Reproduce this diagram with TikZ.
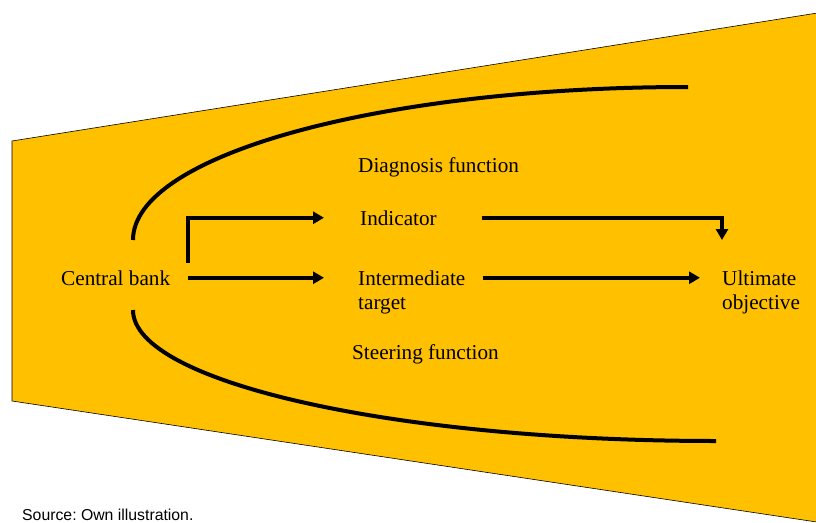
\documentclass[tikz,border=0pt]{standalone}
\usepackage{fontspec}
\setmainfont{Liberation Serif}
\newfontfamily\srcfont{Liberation Sans}
\usetikzlibrary{arrows.meta}
\definecolor{funnelgold}{HTML}{FFC000}
\tikzset{
  lbl/.style={inner sep=0pt,font=\fontsize{21.2}{24}\selectfont,align=left},
  conn/.style={line width=4pt,-{Triangle[length=11pt,width=12pt]}},
  curve/.style={line width=4pt}
}
\frenchspacing
\begin{document}
\begin{tikzpicture}[x=1pt,y=-1pt]
  \useasboundingbox (0,0) rectangle (816,522);
  % funnel
  \filldraw[fill=funnelgold,draw=black,line width=0.6pt] (12,141) -- (830,11) -- (830,524) -- (12,401) -- cycle;
  % the two arcs
  \draw[curve] (133,240) .. controls (133,155) and (381,87) .. (688,87);
  \draw[curve] (133,310) .. controls (133,382) and (394,441) .. (716,441);
  % labels
  \node[lbl,anchor=base west] (diag) at (358,172) {Diagnosis function};
  \node[lbl,anchor=base west] (cb) at (61,285) {Central bank};
  \node[lbl,anchor=base west] (ind) at (360,225) {Indicator};
  \node[lbl,anchor=north west] (imt) at (358,271) {Intermediate\\target};
  \node[lbl,anchor=north west] (ult) at (722,271) {Ultimate\\objective};
  \node[lbl,anchor=base west] (steer) at (352,359) {Steering function};
  \node[inner sep=0pt,anchor=base west,font=\srcfont\fontsize{15.8}{18}\selectfont] (src) at (22,520) {Source: Own illustration.};
  % connectors
  \draw[conn] ([xshift=18pt,yshift=15pt]cb.east) |- ([xshift=-36pt]ind.west);
  \draw[conn] ([xshift=18pt]cb.east) -- ([xshift=-34pt]cb.east -| imt.west);
  \draw[conn] ([xshift=45pt]ind.east) -| ([yshift=31pt]ult.north west);
  \draw[conn] ([xshift=17pt]cb.east -| imt.east) -- ([xshift=-22pt]cb.east -| ult.west);
\end{tikzpicture}
\end{document}
